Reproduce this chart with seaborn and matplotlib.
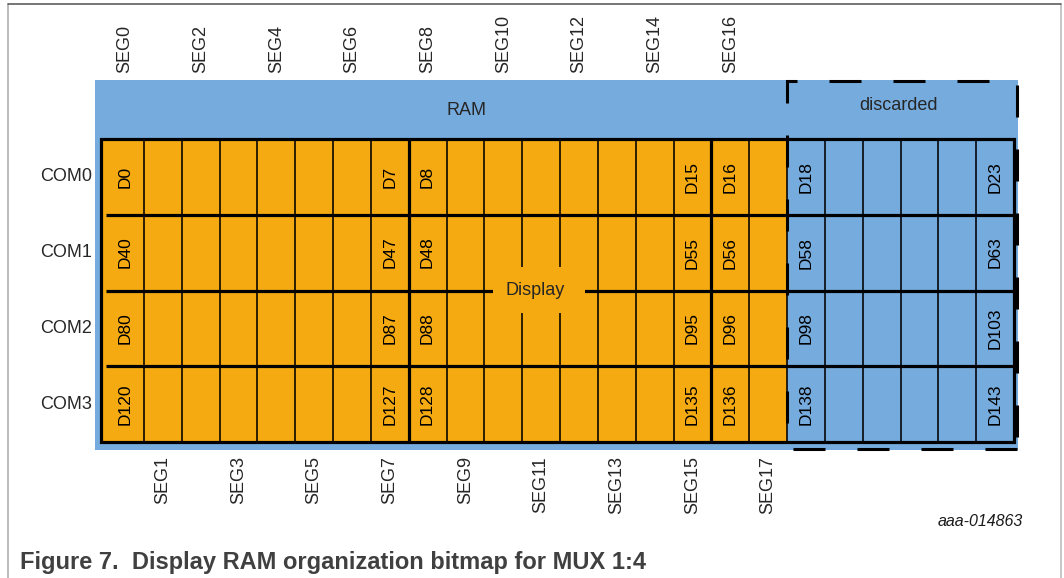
import numpy as np
import pandas as pd
import matplotlib
matplotlib.use('Agg')
import matplotlib.pyplot as plt
from matplotlib.colors import ListedColormap
from matplotlib.patches import Rectangle
import seaborn as sns

# rows (commons) and segment names of the display RAM, MUX 1:4
com_labels = ['COM0', 'COM1', 'COM2', 'COM3']
seg_top = ['SEG0', 'SEG2', 'SEG4', 'SEG6', 'SEG8', 'SEG10', 'SEG12', 'SEG14', 'SEG16']
seg_top_cols = [0, 2, 4, 6, 8, 10, 12, 14, 16]
seg_bottom = ['SEG1', 'SEG3', 'SEG5', 'SEG7', 'SEG9', 'SEG11', 'SEG13', 'SEG15', 'SEG17']
seg_bottom_cols = [1, 3, 5, 7, 9, 11, 13, 15, 17]

# 0 = bit shown on the display, 1 = discarded RAM bit
column_state = [0] * 18 + [1] * 6

# columns that carry a bit name, and the names per COM row
label_cols = [0, 7, 8, 15, 16, 18, 23]
bit_labels = [
    ['D0', 'D7', 'D8', 'D15', 'D16', 'D18', 'D23'],
    ['D40', 'D47', 'D48', 'D55', 'D56', 'D58', 'D63'],
    ['D80', 'D87', 'D88', 'D95', 'D96', 'D98', 'D103'],
    ['D120', 'D127', 'D128', 'D135', 'D136', 'D138', 'D143'],
]

ORANGE = '#F6AA11'
BLUE = '#76ABDD'

sns.set_style('white')
plt.rcParams['font.family'] = ['Liberation Sans', 'DejaVu Sans']
plt.rcParams['lines.scale_dashes'] = False

W, H = 1064, 578
fig = plt.figure(figsize=(W / 100, H / 100), dpi=100)

# background layer in pixel coordinates
bg = fig.add_axes([0, 0, 1, 1], zorder=0)
bg.set_xlim(0, W)
bg.set_ylim(H, 0)
bg.axis('off')
bg.add_patch(Rectangle((95, 80), 922.7, 370, facecolor=BLUE, edgecolor='none'))

# the RAM grid as a heatmap
n_cols = len(column_state)
n_rows = len(com_labels)
df = pd.DataFrame([column_state] * n_rows, index=com_labels)
annot = np.full(df.shape, '', dtype=object)
for r, names in enumerate(bit_labels):
    for c, name in zip(label_cols, names):
        annot[r, c] = name

grid_left, grid_right, grid_top, grid_bottom = 101, 1014, 139, 442
ax = fig.add_axes([grid_left / W, 1 - grid_bottom / H,
                   (grid_right - grid_left) / W, (grid_bottom - grid_top) / H], zorder=1)
sns.heatmap(df, ax=ax, cmap=ListedColormap([ORANGE, BLUE]), vmin=0, vmax=1, cbar=False,
            linewidths=0, annot=annot, fmt='',
            annot_kws=dict(rotation=90, fontsize=12.5, color='black'))
lead = 5 / 37.83  # first column is a little wider than the rest
ax.set_xlim(-lead, n_cols)
ax.set_ylim(n_rows, 0)
ax.set_facecolor(ORANGE)
for s in ax.spines.values():
    s.set_visible(False)

# thin cell separators, thick group separators and outline
thin = [c for c in range(1, n_cols) if c not in (8, 16)]
ax.vlines(thin, 0, n_rows, color='black', lw=1.15, zorder=2)
ax.hlines([1, 2, 3], 0, n_cols, color='black', lw=2.3, zorder=2)
ax.vlines([8, 16], 0, n_rows, color='black', lw=2.3, zorder=2)
ax.add_patch(Rectangle((-lead, 0), n_cols + lead, n_rows, fill=False,
                       edgecolor='black', lw=2.3, zorder=2, clip_on=False))

# SEG labels: odd ones below, even ones above
ax.set_xticks([c + 0.5 for c in seg_bottom_cols])
ax.set_xticklabels(seg_bottom, rotation=90, fontsize=13)
ax.set_xticks([c + 0.5 for c in seg_top_cols], minor=True)
ax.set_xticklabels(seg_top, minor=True, rotation=90, fontsize=13)
ax.tick_params(axis='x', which='major', bottom=True, top=False, labelbottom=True,
               labeltop=False, length=0, pad=10.3)
ax.tick_params(axis='x', which='minor', bottom=False, top=True, labelbottom=False,
               labeltop=True, length=0, pad=47.3)
ax.set_yticks([r + 0.5 for r in range(n_rows)])
ax.set_yticklabels(com_labels, rotation=0, fontsize=13)
ax.tick_params(axis='y', length=0, pad=6.5)
ax.set_xlabel('')
ax.set_ylabel('')

# overlay layer in pixel coordinates
top = fig.add_axes([0, 0, 1, 1], zorder=2)
top.set_xlim(0, W)
top.set_ylim(H, 0)
top.axis('off')
top.patch.set_alpha(0)

# page frame
top.plot([8, 8], [4, H], color='#a8a8a8', lw=1.1)
top.plot([1061, 1061], [4, H], color='#b8b8b8', lw=1.1)
top.plot([8, 1061], [4, 4], color='#505050', lw=1.1)

# dashed "discarded" region
dash = 32 * 0.72
top.plot([786.7, 786.7, 1017, 1017], [449, 80.8, 80.8, 449], color='black', lw=2.2,
         linestyle=(38 * 0.72, (dash, dash)), dash_joinstyle='miter')
top.plot([1017, 786.7], [449, 449], color='black', lw=2.2, linestyle=(0, (dash, dash)))

# "Display" tag sitting on the grid lines
top.add_patch(Rectangle((493, 267), 92, 46, facecolor=ORANGE, edgecolor='none'))
top.text(535, 295, 'Display', ha='center', va='baseline', fontsize=13)
top.text(466.5, 115, 'RAM', ha='center', va='baseline', fontsize=13)
top.text(898, 110, 'discarded', ha='center', va='baseline', fontsize=13)

top.text(1023, 526, 'aaa-014863', ha='right', va='baseline', fontsize=11.5,
         style='italic', color='#1a1a1a')
top.text(20, 569, 'Figure 7.  Display RAM organization bitmap for MUX 1:4', ha='left',
         va='baseline', fontsize=17, fontweight='bold', color='#404040')

fig.savefig('out.png', dpi=100)
